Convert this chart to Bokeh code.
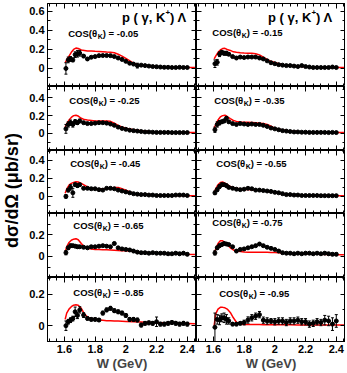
import math
from bokeh.plotting import figure
from bokeh.models import (LinearAxis, FixedTicker, CustomJSTickFormatter, Range1d,
                          Label, ColumnDataSource, GridBox)
from bokeh.layouts import row
from bokeh.embed import file_html
from bokeh.resources import INLINE

FONT = "Liberation Sans"

# ---------------- data ----------------
W_DATA = [1.61, 1.625, 1.64, 1.655, 1.67, 1.685, 1.70, 1.725, 1.75, 1.775, 1.80, 1.825,
          1.85, 1.875, 1.90, 1.925, 1.95, 1.975, 2.00, 2.025, 2.05, 2.075, 2.10, 2.125,
          2.15, 2.175, 2.20, 2.225, 2.25, 2.275, 2.30, 2.325, 2.35, 2.375, 2.40]
W_MODEL = [1.605, 1.615, 1.63, 1.645, 1.66, 1.675, 1.69, 1.71, 1.73, 1.75, 1.775, 1.80,
           1.825, 1.85, 1.875, 1.90, 1.925, 1.95, 1.975, 2.0, 2.05, 2.1, 2.15, 2.2, 2.25,
           2.3, 2.35, 2.4, 2.45]

COS_LABELS = ["-0.05", "-0.15", "-0.25", "-0.35", "-0.45",
              "-0.55", "-0.65", "-0.75", "-0.85", "-0.95"]

DATA_005 = [0.0, 0.09, 0.1, 0.09, 0.145, 0.155, 0.16, 0.13, 0.1, 0.118, 0.125, 0.135, 0.136,
            0.136, 0.135, 0.125, 0.11, 0.095, 0.075, 0.055, 0.046, 0.03, 0.035, 0.03, 0.025,
            0.02, 0.018, 0.015, 0.012, 0.012, 0.01, 0.01, 0.012, 0.01, 0.01]
ERR_005 = [0.06, 0.03, 0.025, 0.02, 0.03, 0.035, 0.03, 0.015, 0.012, 0.01, 0.01, 0.01, 0.01,
           0.01, 0.01, 0.01, 0.01, 0.01, 0.01, 0.01, 0.01, 0.025, 0.01, 0.01, 0.01, 0.01, 0.01,
           0.01, 0.01, 0.01, 0.01, 0.01, 0.01, 0.01, 0.01]
MODEL_005 = [0.06, 0.09, 0.13, 0.17, 0.2, 0.215, 0.21, 0.195, 0.19, 0.185, 0.183, 0.18, 0.178,
             0.175, 0.172, 0.17, 0.165, 0.15, 0.13, 0.105, 0.055, 0.035, 0.027, 0.02, 0.017,
             0.014, 0.012, 0.01, 0.01]

DATA_015 = [0.05, 0.065, 0.15, 0.17, 0.16, 0.16, 0.15, 0.125, 0.11, 0.12, 0.115, 0.12, 0.12,
            0.12, 0.11, 0.1, 0.08, 0.06, 0.05, 0.04, 0.035, 0.03, 0.03, 0.025, 0.02, 0.03,
            0.02, 0.015, 0.01, 0.01, 0.01, 0.01, 0.01, 0.015, 0.01]
ERR_015 = [0.04, 0.03, 0.025, 0.02, 0.02, 0.02, 0.015, 0.012, 0.01, 0.01, 0.01, 0.01, 0.01,
           0.01, 0.01, 0.01, 0.01, 0.01, 0.01, 0.01, 0.01, 0.01, 0.01, 0.01, 0.01, 0.01, 0.01,
           0.01, 0.01, 0.01, 0.01, 0.01, 0.01, 0.01, 0.01]
MODEL_015 = [0.1, 0.13, 0.17, 0.195, 0.21, 0.212, 0.2, 0.19, 0.175, 0.17, 0.165, 0.162, 0.16,
             0.16, 0.155, 0.143, 0.12, 0.095, 0.075, 0.062, 0.04, 0.03, 0.022, 0.018, 0.015,
             0.012, 0.01, 0.01, 0.01]

DATA_025 = [0.05, 0.1, 0.12, 0.1, 0.13, 0.12, 0.14, 0.12, 0.11, 0.11, 0.115, 0.12, 0.12,
            0.115, 0.105, 0.09, 0.07, 0.055, 0.045, 0.035, 0.03, 0.025, 0.02, 0.015, 0.015,
            0.012, 0.01, 0.01, 0.01, 0.01, 0.008, 0.008, 0.008, 0.008, 0.008]
ERR_025 = [0.05, 0.03, 0.03, 0.03, 0.025, 0.02, 0.02, 0.012, 0.01, 0.01, 0.01, 0.01, 0.01,
           0.01, 0.01, 0.01, 0.01, 0.01, 0.01, 0.01, 0.01, 0.01, 0.01, 0.01, 0.01, 0.01, 0.01,
           0.01, 0.01, 0.01, 0.01, 0.01, 0.01, 0.01, 0.01]
MODEL_025 = [0.07, 0.11, 0.15, 0.18, 0.2, 0.205, 0.195, 0.17, 0.155, 0.15, 0.145, 0.14, 0.14,
             0.14, 0.138, 0.135, 0.115, 0.09, 0.072, 0.058, 0.04, 0.028, 0.02, 0.016, 0.013,
             0.011, 0.01, 0.009, 0.009]

DATA_035 = [0.04, 0.1, 0.12, 0.13, 0.14, 0.17, 0.13, 0.11, 0.1, 0.11, 0.105, 0.1, 0.105, 0.1,
            0.1, 0.09, 0.077, 0.06, 0.05, 0.04, 0.03, 0.025, 0.02, 0.015, 0.015, 0.012, 0.012,
            0.01, 0.01, 0.01, 0.01, 0.01, 0.008, 0.01, 0.008]
ERR_035 = [0.03, 0.03, 0.025, 0.02, 0.02, 0.02, 0.015, 0.012, 0.01, 0.01, 0.01, 0.01, 0.01,
           0.01, 0.01, 0.01, 0.01, 0.01, 0.01, 0.01, 0.01, 0.01, 0.01, 0.01, 0.01, 0.01, 0.01,
           0.01, 0.01, 0.01, 0.01, 0.01, 0.01, 0.01, 0.01]
MODEL_035 = [0.06, 0.1, 0.15, 0.185, 0.2, 0.205, 0.19, 0.165, 0.145, 0.135, 0.128, 0.125,
             0.125, 0.123, 0.12, 0.115, 0.11, 0.1, 0.08, 0.058, 0.038, 0.027, 0.02, 0.015,
             0.012, 0.01, 0.009, 0.008, 0.008]

DATA_045 = [0.0, 0.07, 0.1, 0.04, 0.13, 0.12, 0.13, 0.09, 0.09, 0.085, 0.085, 0.075, 0.07,
            0.09, 0.09, 0.085, 0.07, 0.06, 0.05, 0.04, 0.03, 0.025, 0.02, 0.02, 0.015, 0.015,
            0.01, 0.01, 0.01, 0.01, 0.01, 0.015, 0.015, 0.015, 0.01]
ERR_045 = [0.02, 0.02, 0.03, 0.05, 0.02, 0.02, 0.015, 0.01, 0.01, 0.01, 0.01, 0.01, 0.01,
           0.01, 0.01, 0.01, 0.01, 0.01, 0.01, 0.01, 0.01, 0.01, 0.01, 0.01, 0.01, 0.01, 0.01,
           0.01, 0.01, 0.01, 0.01, 0.01, 0.01, 0.01, 0.01]
MODEL_045 = [0.035, 0.08, 0.125, 0.145, 0.156, 0.163, 0.16, 0.145, 0.125, 0.105, 0.09, 0.085,
             0.083, 0.083, 0.085, 0.092, 0.098, 0.1, 0.085, 0.07, 0.033, 0.025, 0.02, 0.015,
             0.012, 0.01, 0.009, 0.008, 0.008]

DATA_055 = [0.04, 0.075, 0.11, 0.13, 0.13, 0.12, 0.1, 0.09, 0.08, 0.075, 0.08, 0.09, 0.085,
            0.07, 0.07, 0.065, 0.06, 0.055, 0.045, 0.04, 0.03, 0.02, 0.02, 0.015, 0.015, 0.01,
            0.01, 0.01, 0.01, 0.01, 0.008, 0.008, 0.008, 0.008, 0.008]
ERR_055 = [0.02, 0.02, 0.02, 0.02, 0.015, 0.015, 0.012, 0.01, 0.01, 0.01, 0.01, 0.01, 0.01,
           0.01, 0.01, 0.01, 0.01, 0.01, 0.01, 0.01, 0.01, 0.01, 0.01, 0.01, 0.01, 0.01, 0.01,
           0.01, 0.01, 0.01, 0.01, 0.01, 0.01, 0.01, 0.01]
MODEL_055 = [0.04, 0.085, 0.13, 0.155, 0.16, 0.148, 0.13, 0.11, 0.098, 0.09, 0.082, 0.078,
             0.076, 0.075, 0.072, 0.068, 0.064, 0.058, 0.05, 0.042, 0.03, 0.021, 0.016, 0.012,
             0.011, 0.01, 0.009, 0.008, 0.008]

DATA_065 = [0.035, 0.08, 0.1, 0.1, 0.095, 0.09, 0.09, 0.085, 0.08, 0.09, 0.09, 0.095, 0.1,
            0.095, 0.09, 0.12, 0.08, 0.07, 0.065, 0.06, 0.05, 0.04, 0.035, 0.035, 0.03, 0.035,
            0.03, 0.03, 0.03, 0.025, 0.025, 0.03, 0.025, 0.03, 0.02]
ERR_065 = [0.02, 0.015, 0.015, 0.012, 0.012, 0.012, 0.01, 0.01, 0.01, 0.01, 0.01, 0.01, 0.01,
           0.01, 0.01, 0.012, 0.01, 0.01, 0.01, 0.01, 0.01, 0.01, 0.01, 0.01, 0.01, 0.01, 0.01,
           0.01, 0.01, 0.01, 0.01, 0.012, 0.012, 0.012, 0.012]
MODEL_065 = [0.04, 0.09, 0.13, 0.15, 0.16, 0.165, 0.155, 0.12, 0.088, 0.075, 0.068, 0.065,
             0.064, 0.063, 0.062, 0.06, 0.058, 0.056, 0.054, 0.052, 0.048, 0.04, 0.035, 0.031,
             0.027, 0.024, 0.022, 0.02, 0.019]

DATA_075 = [0.033, 0.08, 0.1, 0.11, 0.12, 0.115, 0.11, 0.09, 0.05, 0.065, 0.07, 0.08, 0.09,
            0.1, 0.115, 0.1, 0.085, 0.075, 0.065, 0.05, 0.035, 0.03, 0.03, 0.025, 0.03, 0.025,
            0.03, 0.03, 0.025, 0.03, 0.025, 0.03, 0.025, 0.02, 0.02]
ERR_075 = [0.02, 0.015, 0.015, 0.012, 0.012, 0.012, 0.01, 0.01, 0.01, 0.01, 0.01, 0.01, 0.01,
           0.01, 0.01, 0.01, 0.01, 0.01, 0.01, 0.01, 0.01, 0.01, 0.01, 0.01, 0.01, 0.01, 0.01,
           0.01, 0.01, 0.01, 0.01, 0.012, 0.012, 0.012, 0.012]
MODEL_075 = [0.03, 0.07, 0.12, 0.145, 0.145, 0.13, 0.11, 0.08, 0.06, 0.05, 0.045, 0.041, 0.04,
             0.04, 0.039, 0.039, 0.038, 0.038, 0.037, 0.036, 0.033, 0.03, 0.027, 0.024, 0.022,
             0.02, 0.018, 0.016, 0.015]

DATA_085 = [0.0, 0.025, 0.035, 0.045, 0.088, 0.065, 0.1, 0.067, 0.046, 0.04, 0.04, 0.036, 0.08,
            0.1, 0.11, 0.095, 0.088, 0.08, 0.065, 0.04, 0.04, 0.036, 0.004, 0.015, 0.018,
            0.015, 0.025, 0.01, 0.01, 0.015, 0.02, 0.015, 0.01, 0.015, 0.01]
ERR_085 = [0.03, 0.015, 0.015, 0.015, 0.03, 0.02, 0.02, 0.015, 0.01, 0.01, 0.01, 0.01, 0.012,
           0.012, 0.012, 0.012, 0.012, 0.012, 0.012, 0.012, 0.012, 0.012, 0.012, 0.012, 0.012,
           0.012, 0.03, 0.012, 0.012, 0.012, 0.012, 0.012, 0.012, 0.012, 0.012]
MODEL_085 = [0.04, 0.08, 0.105, 0.12, 0.13, 0.132, 0.13, 0.11, 0.075, 0.055, 0.045, 0.04,
             0.036, 0.034, 0.032, 0.031, 0.03, 0.029, 0.028, 0.027, 0.025, 0.023, 0.021, 0.019,
             0.018, 0.016, 0.015, 0.014, 0.013]

DATA_095 = [-0.01, 0.04, 0.036, 0.05, 0.05, 0.04, 0.03, 0.01, 0.01, 0.015, 0.02, 0.036, 0.05,
            0.06, 0.07, 0.035, 0.03, 0.03, 0.025, 0.03, 0.03, 0.02, 0.03, 0.03, 0.035, 0.025,
            0.025, 0.01, 0.015, 0.025, 0.02, 0.035, 0.03, 0.01, 0.03]
ERR_095 = [0.09, 0.03, 0.03, 0.025, 0.03, 0.03, 0.02, 0.01, 0.01, 0.01, 0.015, 0.02, 0.02,
           0.02, 0.02, 0.02, 0.02, 0.015, 0.02, 0.02, 0.02, 0.02, 0.02, 0.02, 0.02, 0.02, 0.02,
           0.02, 0.02, 0.02, 0.02, 0.03, 0.03, 0.04, 0.04]
MODEL_095 = [0.0, 0.075, 0.105, 0.116, 0.116, 0.113, 0.105, 0.084, 0.05, 0.022, 0.01, 0.008,
             0.007, 0.007, 0.007, 0.007, 0.006, 0.006, 0.006, 0.006, 0.006, 0.006, 0.005, 0.005,
             0.005, 0.005, 0.005, 0.005, 0.005]

X_MAJOR = [1.6, 1.8, 2.0, 2.2, 2.4]
Y_MAJOR = [-0.2, 0.0, 0.2, 0.4, 0.6]

PANELS = [
    (DATA_005, ERR_005, MODEL_005), (DATA_015, ERR_015, MODEL_015),
    (DATA_025, ERR_025, MODEL_025), (DATA_035, ERR_035, MODEL_035),
    (DATA_045, ERR_045, MODEL_045), (DATA_055, ERR_055, MODEL_055),
    (DATA_065, ERR_065, MODEL_065), (DATA_075, ERR_075, MODEL_075),
    (DATA_085, ERR_085, MODEL_085), (DATA_095, ERR_095, MODEL_095),
]

# ---------------- layout / style ----------------
YLAB_W = 22
LEFT_BORDER = 25
TOP_BORDER = 3
FW = 149
FH = [83, 64, 63, 64, 64]
YR = [(-0.19, 0.684), (-0.195, 0.53), (-0.19, 0.51), (-0.195, 0.398), (-0.1, 0.305)]
XR = (1.49, 2.46)
COS_POS = [(1.625, 0.37), (1.593, 0.375), (1.632, 0.366), (1.606, 0.366),
           (1.638, 0.367), (1.619, 0.367), (1.658, 0.29), (1.593, 0.31),
           (1.658, 0.213), (1.638, 0.206)]
TITLE_X = [1.975, 1.955]
TITLE_Y = 0.537

x_minor = [round(1.5 + 0.05 * i, 3) for i in range(20)]
x_minor = [v for v in x_minor if all(abs(v - m) > 1e-6 for m in X_MAJOR)]
y_minor = [-0.1, 0.1, 0.3, 0.5]
XT = FixedTicker(ticks=X_MAJOR, minor_ticks=x_minor)
YT = FixedTicker(ticks=Y_MAJOR, minor_ticks=y_minor)
FMT = CustomJSTickFormatter(code="const v = Math.round(tick*10)/10; return v === 0 ? '0' : String(v);")


def styled(ax, ticker, show):
    ax.ticker = ticker
    ax.formatter = FMT
    ax.major_tick_in = 5
    ax.major_tick_out = 0
    ax.minor_tick_in = 3
    ax.minor_tick_out = 0
    ax.axis_line_color = "black"
    ax.major_tick_line_color = "black"
    ax.minor_tick_line_color = "black"
    ax.major_label_text_font = FONT
    ax.major_label_text_font_style = "bold"
    if show:
        ax.major_label_text_color = "black"
        ax.major_label_text_font_size = "11px"
        ax.major_label_standoff = 3
    else:
        ax.major_label_text_color = None
        ax.major_label_text_font_size = "0px"
        ax.major_label_standoff = 0
    return ax


def lab(p, x, y, text, size, dx=0, dy=0, align="left"):
    p.add_layout(Label(x=x, y=y, x_offset=dx, y_offset=dy, text=text, text_font=FONT,
                       text_font_style="bold", text_font_size=size, text_color="black",
                       text_baseline="middle", text_align=align))


children = []
for i, (vals, errs, model) in enumerate(PANELS):
    r, c = divmod(i, 2)
    p = figure(frame_width=FW, frame_height=FH[r], x_range=Range1d(*XR),
               y_range=Range1d(*YR[r]), x_axis_location=None, y_axis_location=None,
               output_backend="svg", toolbar_location=None,
               min_border_left=LEFT_BORDER if c == 0 else 0, min_border_right=0,
               min_border_top=TOP_BORDER if r == 0 else 0, min_border_bottom=0,
               background_fill_color="white", border_fill_color="white",
               outline_line_color="black", outline_line_width=1)
    try:
        p.grid.visible = False
    except Exception:
        pass
    p.add_layout(styled(LinearAxis(), YT, c == 0), "left")
    p.add_layout(styled(LinearAxis(), YT, False), "right")
    p.add_layout(styled(LinearAxis(), XT, False), "above")
    bx = styled(LinearAxis(), XT, r == 4)
    if r == 4:
        bx.axis_label = "W (GeV)"
        bx.axis_label_text_font = FONT
        bx.axis_label_text_font_style = "bold"
        bx.axis_label_text_font_size = "13px"
        bx.axis_label_standoff = 0
    p.add_layout(bx, "below")

    lo = [v - e for v, e in zip(vals, errs)]
    hi = [v + e for v, e in zip(vals, errs)]
    src = ColumnDataSource(dict(w=W_DATA, v=vals, lo=lo, hi=hi))
    p.line(W_MODEL, model, line_color="#ff0000", line_width=1.5)
    p.segment(x0="w", y0="lo", x1="w", y1="hi", source=src, line_color="black", line_width=1)
    p.scatter(x="w", y="lo", source=src, marker="dash", size=3, line_color="black")
    p.scatter(x="w", y="hi", source=src, marker="dash", size=3, line_color="black")
    p.scatter(x="w", y="v", source=src, marker="circle", size=4,
              fill_color="black", line_color="black")

    cx, cy = COS_POS[i]
    lab(p, cx, cy, "COS(θ", "9.5px")
    lab(p, cx, cy, "K", "7px", dx=29.5, dy=-3)
    lab(p, cx, cy, ") = " + COS_LABELS[i], "9.5px", dx=34.5)
    if r == 0:
        tx = TITLE_X[c]
        lab(p, tx, TITLE_Y, "p ( γ, K", "13px")
        lab(p, tx, TITLE_Y, "+", "8px", dx=43.5, dy=5)
        lab(p, tx, TITLE_Y, " ) Λ", "13px", dx=48)
    children.append((p, r, c))

grid = GridBox(children=children, spacing=0)

TOTAL_H = TOP_BORDER + sum(FH) + 31
ylab = figure(width=YLAB_W, height=TOTAL_H, x_range=Range1d(0, 1), y_range=Range1d(0, 1),
              x_axis_location=None, y_axis_location=None, output_backend="svg",
              toolbar_location=None, min_border=0, outline_line_color=None,
              background_fill_color="white", border_fill_color="white")
try:
    ylab.grid.visible = False
except Exception:
    pass
ylab.add_layout(Label(x=0.5, y=(TOTAL_H - 190.0) / TOTAL_H, text="dσ/dΩ (μb/sr)",
                      angle=math.pi / 2, text_font=FONT, text_font_style="bold",
                      text_font_size="18px", text_align="center", text_baseline="middle",
                      text_color="black"))

layout = row(ylab, grid)
open("out.html", "w").write(file_html(layout, INLINE))
